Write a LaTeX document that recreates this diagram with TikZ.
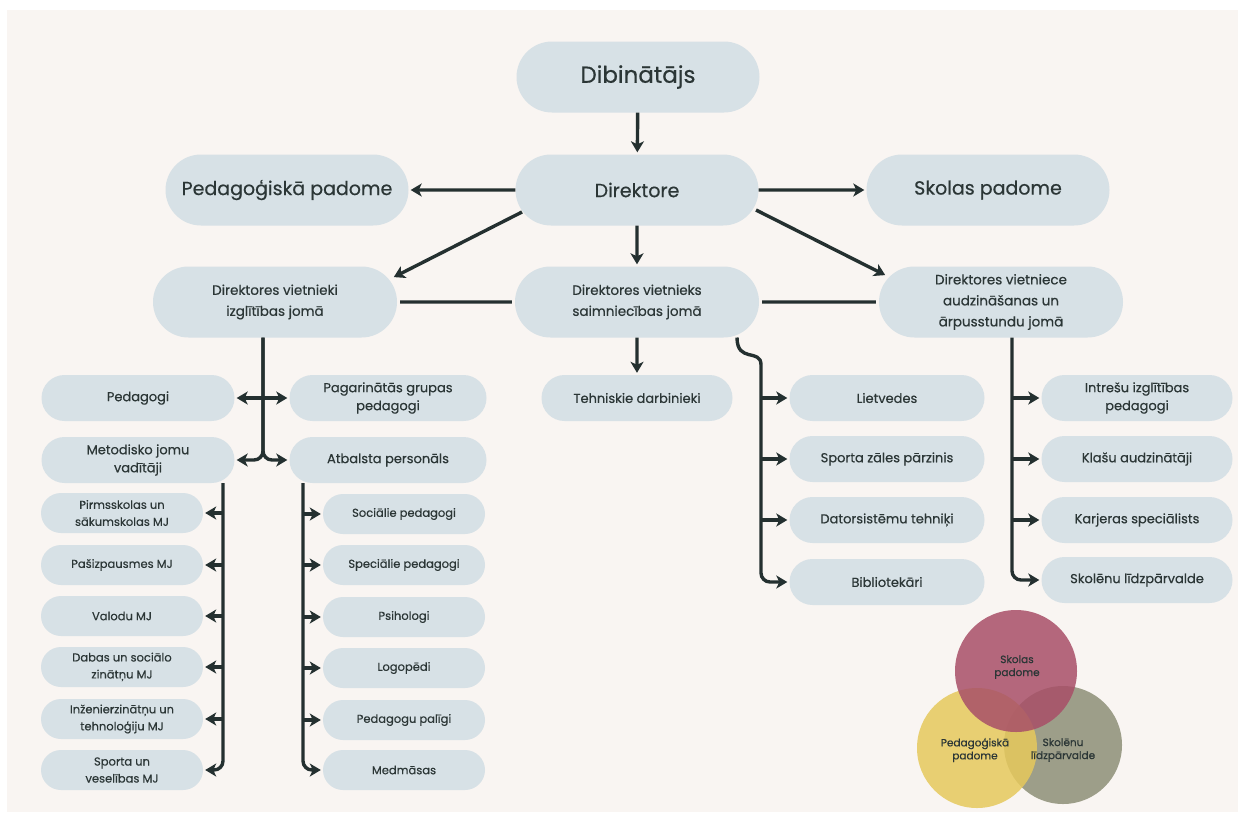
\documentclass[tikz,border=0pt]{standalone}
\usepackage{fontspec}
\setmainfont{Poppins}[FakeBold=0.5]
\usetikzlibrary{arrows.meta,calc,shapes.misc}
\definecolor{bg}{HTML}{F9F5F2}
\definecolor{boxc}{HTML}{D7E1E6}
\definecolor{ink}{HTML}{2B3636}
\definecolor{lin}{HTML}{243030}
\definecolor{vred}{HTML}{A84F68}
\definecolor{vyel}{HTML}{E6C95C}
\definecolor{voli}{HTML}{8D8F77}
\begin{document}
\begin{tikzpicture}[x=1pt,y=-1pt,
 box/.style={rounded rectangle, fill=boxc, text=ink, align=center, inner sep=0pt},
 big/.style={box, minimum width=243pt, minimum height=71pt, font=\fontsize{23}{27}\selectfont},
 mid/.style={box, minimum width=243pt, minimum height=71pt, font=\fontsize{19}{22}\selectfont},
 lvl/.style={box, minimum width=244pt, minimum height=71pt, font=\fontsize{13.5}{21}\selectfont},
 sbox/.style={box, minimum width=193pt, minimum height=46pt, font=\fontsize{13}{18}\selectfont},
 mj/.style={box, minimum width=162pt, minimum height=40pt, font=\fontsize{11.5}{17}\selectfont},
 conn/.style={draw=lin, line width=3.4pt, -{Stealth[length=11pt,width=13pt,inset=3pt]}, shorten >=2pt},
 conn2/.style={draw=lin, line width=3.4pt, {Stealth[length=11pt,width=13pt,inset=3pt]}-{Stealth[length=11pt,width=13pt,inset=3pt]}, shorten >=2pt, shorten <=2pt},
 plain/.style={draw=lin, line width=3.4pt, shorten >=3pt, shorten <=3pt},
 venn/.style={fill opacity=0.85, draw=none},
 vtext/.style={text=ink, align=center, font=\fontsize{10.5}{13}\selectfont},
]
\fill[white] (0,0) rectangle (1245,820);
\fill[bg] (7,10) rectangle (1238,812);
\useasboundingbox (0,0) rectangle (1245,820);

% top levels
\node[big] (dib) at (638,77) {Dibinātājs};
\node[mid] (dir) at (637,190) {Direktore};
\node[mid] (ped) at (287,190) {Pedagoģiskā padome};
\node[mid] (sko) at (988,190) {Skolas padome};
\node[lvl] (vi) at (275,302) {Direktores vietnieki\\izglītības jomā};
\node[lvl] (vs) at (637,302) {Direktores vietnieks\\saimniecības jomā};
\node[lvl] (va) at (1001,302) {Direktores vietniece\\audzināšanas un\\ārpusstundu jomā};

% row 4
\node[sbox] (pg) at (138,398) {Pedagogi};
\node[sbox] (mv) at (138,460) {Metodisko jomu\\vadītāji};
\node[sbox, minimum width=197pt] (pag) at (388,398) {Pagarinātās grupas\\pedagogi};
\node[sbox, minimum width=197pt] (atb) at (388,460) {Atbalsta personāls};
\node[sbox, minimum width=191pt] (teh) at (637,398) {Tehniskie darbinieki};
\node[sbox, minimum width=195pt] (lie) at (887,398) {Lietvedes};
\node[sbox, minimum width=195pt] (spz) at (887,459) {Sporta zāles pārzinis};
\node[sbox, minimum width=195pt] (dat) at (887,520) {Datorsistēmu tehniķi};
\node[sbox, minimum width=195pt] (bib) at (887,582) {Bibliotekāri};
\node[sbox, minimum width=191pt] (int) at (1137,398) {Intrešu izglītības\\pedagogi};
\node[sbox, minimum width=191pt] (kla) at (1137,459) {Klašu audzinātāji};
\node[sbox, minimum width=191pt] (kar) at (1137,520) {Karjeras speciālists};
\node[sbox, minimum width=191pt] (skl) at (1137,580) {Skolēnu līdzpārvalde};

% MJ
\node[mj] (mj1) at (122,513) {Pirmsskolas un\\sākumskolas MJ};
\node[mj] (mj2) at (122,565) {Pašizpausmes MJ};
\node[mj] (mj3) at (122,616) {Valodu MJ};
\node[mj] (mj4) at (122,667) {Dabas un sociālo\\zinātņu MJ};
\node[mj] (mj5) at (122,719) {Inženierzinātņu un\\tehnoloģiju MJ};
\node[mj] (mj6) at (122,770) {Sporta un\\veselības MJ};

% support staff
\node[mj] (ab1) at (404,514) {Sociālie pedagogi};
\node[mj] (ab2) at (404,565) {Speciālie pedagogi};
\node[mj] (ab3) at (404,617) {Psihologi};
\node[mj] (ab4) at (404,668) {Logopēdi};
\node[mj] (ab5) at (404,720) {Pedagogu palīgi};
\node[mj] (ab6) at (404,770) {Medmāsas};

% connectors top
\draw[conn] (dib) -- (dir);
\draw[conn] (dir) -- (ped);
\draw[conn] (dir) -- (sko);
\draw[conn] (dir) -- (vs);
\draw[conn] (vs) -- (teh);
\draw[conn] ($(dir.center)+(-115,22)$) -- ($(vi.center)+(117,-24)$);
\draw[conn] ($(dir.center)+(119,20)$) -- ($(va.center)+(-114,-26)$);
\draw[plain] (vi) -- (vs);
\draw[plain] (vs) -- (va);

% left split
\coordinate (vl) at ($(vi.south)+(-12,0)$);
\draw[conn, rounded corners=9pt] (vl) |- (mv.east);
\draw[conn, rounded corners=9pt] (vl) |- (atb.west);
\draw[conn2] (pg.east) -- (pag.west);

% MJ column
\coordinate (mjt) at ($(mv.south)+(85,0)$);
\draw[conn, rounded corners=9pt] (mjt) |- (mj6.east);
\foreach \n in {mj1,mj2,mj3,mj4,mj5} \draw[conn] (mjt |- \n.east) -- (\n.east);

% support column
\coordinate (at) at ($(atb.south)+(-85,0)$);
\draw[conn, rounded corners=9pt] (at) |- (ab6.west);
\foreach \n in {ab1,ab2,ab3,ab4,ab5} \draw[conn] (at |- \n.west) -- (\n.west);

% middle right
\coordinate (ms) at ($(vs.center)+(100,35.5)$);
\coordinate (mc) at (761,374);
\draw[conn, rounded corners=9pt] (ms) .. controls ($(ms)+(0,26)$) and ($(mc)+(0,-26)$) .. (mc) |- (bib.west);
\foreach \n in {lie,spz,dat} \draw[conn] (mc |- \n.west) -- (\n.west);

% right column
\coordinate (vr) at ($(va.south)+(11,0)$);
\draw[conn, rounded corners=9pt] (vr) |- (skl.west);
\foreach \n in {int,kla,kar} \draw[conn] (vr |- \n.west) -- (\n.west);

% venn
\fill[voli, venn] (1063,745) circle (59);
\fill[vyel, venn] (977,748) circle (60);
\fill[vred, venn] (1016,671) circle (61);
\node[vtext] (v1) at (1017,667) {Skolas\\padome};
\node[vtext] (v2) at (975,750) {Pedagoģiskā\\padome};
\node[vtext] (v3) at (1063,750) {Skolēnu\\līdzpārvalde};
\end{tikzpicture}
\end{document}
